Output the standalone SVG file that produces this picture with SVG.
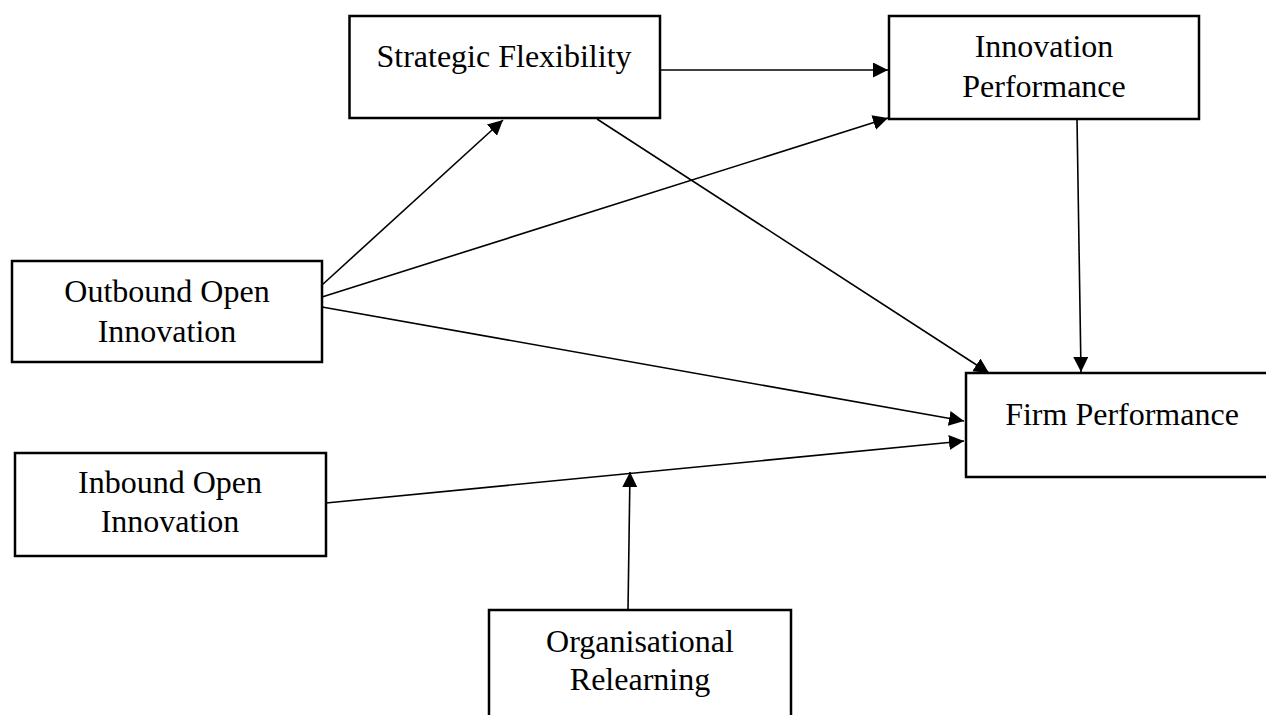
<svg xmlns="http://www.w3.org/2000/svg" width="1266" height="715" viewBox="0 0 1266 715">
<style>
.box{fill:#fff;stroke:#000;stroke-width:2.5}
.lbl{font-family:"Liberation Serif","Times New Roman",serif;font-size:32px;fill:#000;text-anchor:middle}
.edge{stroke:#000;stroke-width:1.6;fill:none;marker-end:url(#arr)}
</style>
<defs>
<marker id="arr" markerUnits="userSpaceOnUse" markerWidth="16" markerHeight="16" refX="15" refY="7.5" orient="auto">
<path d="M0,0 L15,7.5 L0,15 Z" fill="#000"/>
</marker>
</defs>
<rect width="1266" height="715" fill="#fff"/>
<g id="connectors">
<line class="edge" x1="660" y1="70" x2="888" y2="70"/>
<line class="edge" x1="322" y1="285" x2="503" y2="120"/>
<line class="edge" x1="322" y1="297" x2="888" y2="118"/>
<line class="edge" x1="322" y1="307" x2="964" y2="421"/>
<line class="edge" x1="597" y1="119" x2="989" y2="373"/>
<line class="edge" x1="1077" y1="119" x2="1081" y2="372"/>
<line class="edge" x1="326" y1="503" x2="964" y2="441"/>
<line class="edge" x1="628" y1="610" x2="630" y2="472"/>
</g>
<g id="strategic-flexibility">
<rect class="box" x="349.5" y="16" width="310.5" height="102"/>
<text class="lbl" x="504" y="67">Strategic Flexibility</text>
</g>
<g id="innovation-performance">
<rect class="box" x="889" y="16" width="310" height="103"/>
<text class="lbl" x="1044" y="57">Innovation</text>
<text class="lbl" x="1044" y="97">Performance</text>
</g>
<g id="outbound-open-innovation">
<rect class="box" x="12" y="261" width="310" height="101"/>
<text class="lbl" x="167" y="302">Outbound Open</text>
<text class="lbl" x="167" y="342">Innovation</text>
</g>
<g id="firm-performance">
<rect class="box" x="966" y="373" width="320" height="104"/>
<text class="lbl" x="1122" y="425">Firm Performance</text>
</g>
<g id="inbound-open-innovation">
<rect class="box" x="15" y="453" width="311" height="103"/>
<text class="lbl" x="170" y="493">Inbound Open</text>
<text class="lbl" x="170" y="532">Innovation</text>
</g>
<g id="organisational-relearning">
<rect class="box" x="489" y="610" width="302" height="120"/>
<text class="lbl" x="640" y="652">Organisational</text>
<text class="lbl" x="640" y="690">Relearning</text>
</g>
</svg>
